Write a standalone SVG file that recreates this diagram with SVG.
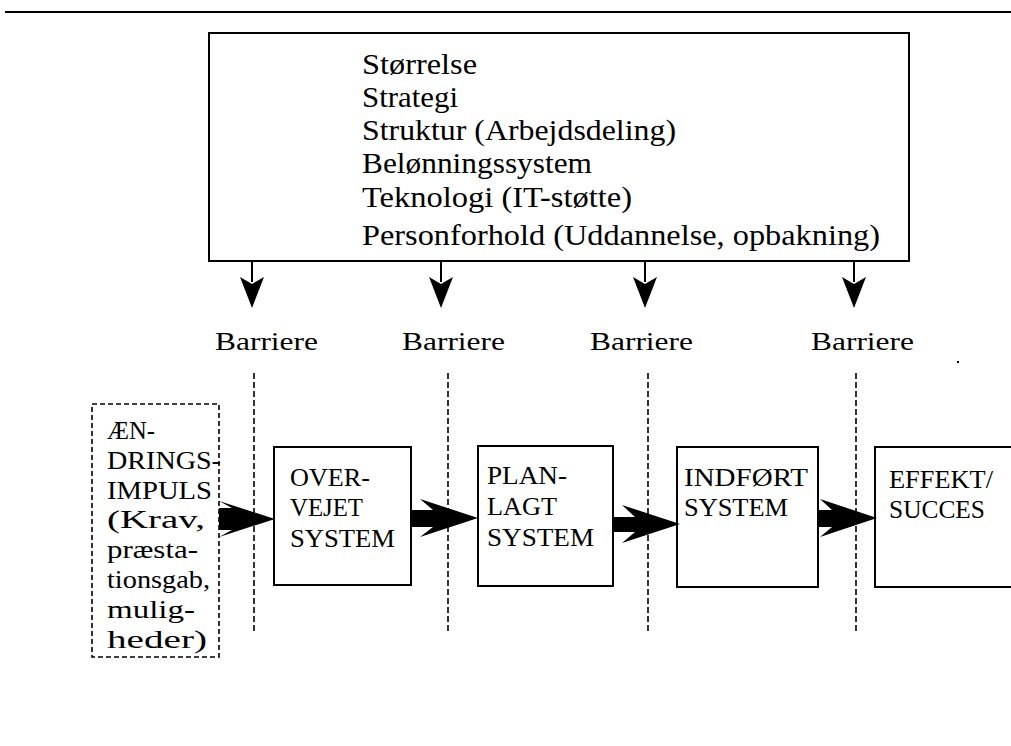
<svg xmlns="http://www.w3.org/2000/svg" width="1011" height="746" viewBox="0 0 1011 746">
<style>
text { font-family: "Liberation Serif", "Times New Roman", serif; fill: #000; }
.big { font-size: 29px; }
.lbl { font-size: 25px; }
.box { fill: #fff; stroke: #000; stroke-width: 2; }
.dbox { fill: #fff; stroke: #000; stroke-width: 1.6; stroke-dasharray: 5 3; }
.barrier { stroke: #000; stroke-width: 1.6; stroke-dasharray: 6 3; fill: none; }
.stem { stroke: #000; stroke-width: 2; fill: none; }
.fat { fill: #000; stroke: none; }
</style>
<rect width="1011" height="746" fill="#fff"/>
<line x1="5" y1="12" x2="1011" y2="12" stroke="#000" stroke-width="2.2"/>

<g id="factors">
  <rect class="box" x="209" y="33" width="700" height="228"/>
  <text class="big" x="362" y="74" textLength="115" lengthAdjust="spacingAndGlyphs">Størrelse</text>
  <text class="big" x="362" y="107" textLength="96" lengthAdjust="spacingAndGlyphs">Strategi</text>
  <text class="big" x="362" y="140" textLength="314" lengthAdjust="spacingAndGlyphs">Struktur (Arbejdsdeling)</text>
  <text class="big" x="362" y="173" textLength="230" lengthAdjust="spacingAndGlyphs">Belønningssystem</text>
  <text class="big" x="362" y="207" textLength="270" lengthAdjust="spacingAndGlyphs">Teknologi (IT-støtte)</text>
  <text class="big" x="362" y="245" textLength="518" lengthAdjust="spacingAndGlyphs">Personforhold (Uddannelse, opbakning)</text>
</g>

<g id="barrier-labels">
  <text class="lbl" x="215" y="350" textLength="103" lengthAdjust="spacingAndGlyphs">Barriere</text>
  <text class="lbl" x="402" y="350" textLength="103" lengthAdjust="spacingAndGlyphs">Barriere</text>
  <text class="lbl" x="590" y="350" textLength="103" lengthAdjust="spacingAndGlyphs">Barriere</text>
  <text class="lbl" x="811" y="350" textLength="103" lengthAdjust="spacingAndGlyphs">Barriere</text>
  <rect x="957" y="361" width="2" height="2" fill="#000"/>
</g>

<g id="barrier-lines">
  <line class="barrier" x1="254" y1="373" x2="254" y2="632"/>
  <line class="barrier" x1="448" y1="373" x2="448" y2="632"/>
  <line class="barrier" x1="648" y1="373" x2="648" y2="632"/>
  <line class="barrier" x1="856" y1="373" x2="856" y2="632"/>
</g>

<g id="impuls">
  <rect class="dbox" x="92" y="404" width="127" height="253"/>
  <text class="lbl" x="107" y="439" textLength="48" lengthAdjust="spacingAndGlyphs">ÆN-</text>
  <text class="lbl" x="107" y="469" textLength="114" lengthAdjust="spacingAndGlyphs">DRINGS-</text>
  <text class="lbl" x="107" y="499" textLength="105" lengthAdjust="spacingAndGlyphs">IMPULS</text>
  <text class="lbl" x="107" y="528" textLength="98" lengthAdjust="spacingAndGlyphs">(Krav,</text>
  <text class="lbl" x="107" y="558" textLength="91" lengthAdjust="spacingAndGlyphs">præsta-</text>
  <text class="lbl" x="107" y="588" textLength="103" lengthAdjust="spacingAndGlyphs">tionsgab,</text>
  <text class="lbl" x="107" y="618" textLength="88" lengthAdjust="spacingAndGlyphs">mulig-</text>
  <text class="lbl" x="107" y="648" textLength="100" lengthAdjust="spacingAndGlyphs">heder)</text>
</g>

<g id="overvejet">
  <rect class="box" x="274" y="447" width="137" height="138"/>
  <text class="lbl" x="290" y="486" textLength="80" lengthAdjust="spacingAndGlyphs">OVER-</text>
  <text class="lbl" x="290" y="516" textLength="73" lengthAdjust="spacingAndGlyphs">VEJET</text>
  <text class="lbl" x="290" y="547" textLength="105" lengthAdjust="spacingAndGlyphs">SYSTEM</text>
</g>

<g id="planlagt">
  <rect class="box" x="478" y="446" width="135" height="140"/>
  <text class="lbl" x="487" y="484" textLength="80" lengthAdjust="spacingAndGlyphs">PLAN-</text>
  <text class="lbl" x="487" y="515" textLength="70" lengthAdjust="spacingAndGlyphs">LAGT</text>
  <text class="lbl" x="487" y="546" textLength="107" lengthAdjust="spacingAndGlyphs">SYSTEM</text>
</g>

<g id="indfoert">
  <rect class="box" x="677" y="447" width="141" height="140"/>
  <text class="lbl" x="684" y="486" textLength="124" lengthAdjust="spacingAndGlyphs">INDFØRT</text>
  <text class="lbl" x="684" y="516" textLength="104" lengthAdjust="spacingAndGlyphs">SYSTEM</text>
</g>

<g id="effekt">
  <rect class="box" x="875" y="447" width="150" height="140"/>
  <text class="lbl" x="889" y="488" textLength="104" lengthAdjust="spacingAndGlyphs">EFFEKT/</text>
  <text class="lbl" x="889" y="518" textLength="96" lengthAdjust="spacingAndGlyphs">SUCCES</text>
</g>

<g id="connectors">
  <line class="stem" x1="252" y1="261" x2="252" y2="282"/>
  <polygon class="fat" points="240,277 252,284 264,277 252,308"/>
  <line class="stem" x1="441" y1="261" x2="441" y2="282"/>
  <polygon class="fat" points="429,277 441,284 453,277 441,308"/>
  <line class="stem" x1="645" y1="261" x2="645" y2="282"/>
  <polygon class="fat" points="633,277 645,284 657,277 645,308"/>
  <line class="stem" x1="854" y1="261" x2="854" y2="282"/>
  <polygon class="fat" points="842,277 854,284 866,277 854,308"/>

  <polygon class="fat" points="219,508 232,508 219,501 275,519 219,537 232,530 219,530"/>
  <polygon class="fat" points="411,510 433,510 420,499 478,518 420,537 433,527 411,527"/>
  <polygon class="fat" points="613,517 635,517 622,505 680,524 622,543 635,532 613,532"/>
  <polygon class="fat" points="818,510 832,510 820,499 877,518 820,537 832,527 818,527"/>
</g>
</svg>
